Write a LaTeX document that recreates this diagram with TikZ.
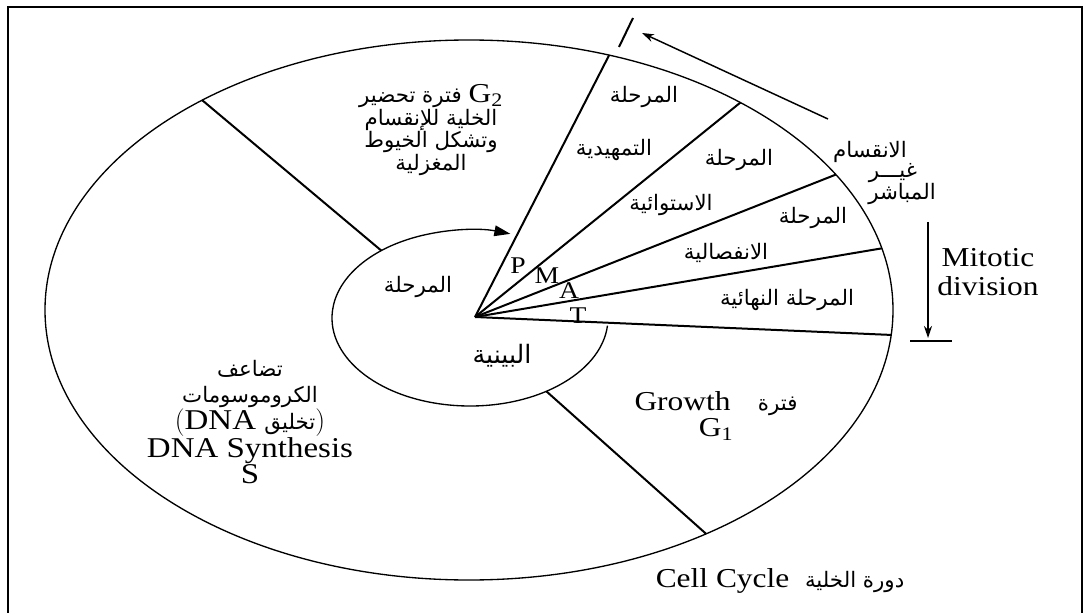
\documentclass[tikz,border=0pt]{standalone}
\usepackage{fontspec}
\setmainfont{Liberation Serif}[FakeStretch=1.15]
\newfontfamily\arabicfont[Script=Arabic]{DejaVu Sans}
\TeXXeTstate=1
\usetikzlibrary{arrows.meta, calc}
\newcommand{\artext}[1]{{\arabicfont\fontsize{16}{17}\selectfont\beginR #1\endR}}
\newcommand{\arword}[1]{{\arabicfont\fontsize{16}{17}\selectfont #1}}
\newcommand{\latin}[1]{{\rmfamily\fontsize{20.5}{24}\selectfont #1}}

\begin{document}
\begin{tikzpicture}[x=0.75pt, y=-0.75pt,
        lbl/.style={font=\fontsize{20.5}{19.7}\selectfont, inner sep=0pt, align=center},
        arlbl/.style={font=\arabicfont\fontsize{16}{16.9}\selectfont, inner sep=0pt, align=center},
        letter/.style={font=\fontsize{18}{20}\selectfont, inner sep=0pt},
        ray/.style={line width=1.5pt},
        rim/.style={line width=1pt},
        arrow/.style={line width=1.1pt, -{Stealth[length=9pt, width=6pt]}}
    ]
        \useasboundingbox (0,0) rectangle (1086,613);
        \draw[line width=2.2pt] (8,613) -- (8,7) -- (1082,7) -- (1082,613);

        \coordinate (outer) at (469,310);
        \coordinate (inner) at (470,318);
        \coordinate (hub) at (475,317);
        \draw[rim] (outer) ellipse [x radius=424, y radius=270];

        \coordinate (pro) at ($(outer)+(-70.7:424 and 270)$);
        \coordinate (meta) at ($(outer)+(-50.2:424 and 270)$);
        \coordinate (ana) at ($(outer)+(-30.1:424 and 270)$);
        \coordinate (telo) at ($(outer)+(-13.2:424 and 270)$);
        \coordinate (gone) at ($(outer)+(5.3:424 and 270)$);
        \coordinate (g2s out) at ($(outer)+(-129:424 and 270)$);
        \coordinate (g2s in) at ($(inner)+(-130:138 and 88)$);
        \coordinate (g1s out) at ($(outer)+(56:424 and 270)$);
        \coordinate (g1s in) at ($(inner)+(56.4:138 and 88)$);
        \coordinate (inner start) at ($(inner)+(5:138 and 88)$);

        \draw[ray] (hub) -- (pro);
        \draw[ray] (hub) -- (meta);
        \draw[ray] (hub) -- (ana);
        \draw[ray] (hub) -- (telo);
        \draw[ray] (hub) -- (gone);
        \draw[ray] (g2s in) -- (g2s out);
        \draw[ray] (g1s in) -- (g1s out);
        \draw[rim, -{Triangle[length=12pt, width=8pt]}] (inner start) arc[start angle=5, end angle=287, x radius=138, y radius=88];

        \coordinate (tick a) at (619,47);
        \coordinate (tick b) at (633,18);
        \draw[ray] (tick a) -- (tick b);
        \coordinate (mit tail) at (828,119);
        \coordinate (mit head) at (642,33);
        \draw[arrow] (mit tail) -- (mit head);
        \coordinate (div top) at (928,222);
        \coordinate (div end) at (928,338);
        \draw[arrow] (div top) -- (div end);
        \coordinate (bar a) at (910,341);
        \coordinate (bar b) at (952,341);
        \draw[rim] (bar a) -- (bar b);

        \node[arlbl] (g2 text) at (431,130) {\artext{فترة تحضير} \latin{G\textsubscript{2}}\\ \artext{الخلية للإنقسام}\\ \artext{وتشكل الخيوط}\\ \artext{المغزلية}};
        \node[lbl, font=\fontsize{21.5}{19.7}\selectfont] (s text) at (250,422) {\arword{تضاعف}\\ \arword{الكروموسومات}\\ $($DNA \arword{تخليق}$)$\\ DNA Synthesis\\ S};
        \node[lbl] (g1 text) at (716,416) {Growth\quad\arword{فترة}\\ G\textsubscript{1}};
        \node[lbl, font=\fontsize{20.5}{21.75}\selectfont] (mitotic) at (988,272) {Mitotic\\ division};
        \node[lbl] (title) at (780,581) {Cell Cycle\ \ \artext{دورة الخلية}};

        \node[arlbl] (pro a) at (644,97) {المرحلة};
        \node[arlbl] (pro b) at (614,150) {التمهيدية};
        \node[arlbl] (meta a) at (739,160) {المرحلة};
        \node[arlbl] (meta b) at (671,205) {الاستوائية};
        \node[arlbl] (ana a) at (813,218) {المرحلة};
        \node[arlbl] (ana b) at (726,253) {الانفصالية};
        \node[arlbl] (telo a) at (787,300) {\artext{المرحلة النهائية}};
        \node[arlbl] (inter a) at (418,287) {المرحلة};
        \node[arlbl, font=\arabicfont\fontsize{19}{20}\selectfont] (inter b) at (502,356) {البينية};
        \node[arlbl] (indirect a) at (870,152) {الانقسام};
        \node[arlbl] (indirect b) at (893,173) {غيـــر};
        \node[arlbl] (indirect c) at (902,194) {المباشر};

        \node[letter] (p) at (518,266) {P};
        \node[letter] (m) at (547,276) {M};
        \node[letter] (a) at (569,291) {A};
        \node[letter] (t) at (578,316) {T};
    \end{tikzpicture}
\end{document}
